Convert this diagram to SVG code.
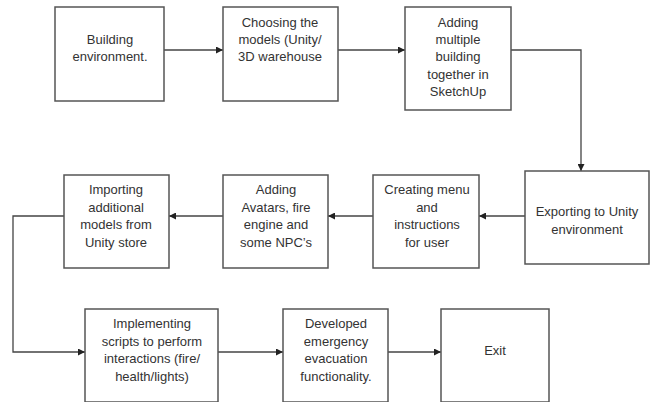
<svg xmlns="http://www.w3.org/2000/svg" width="652" height="402" viewBox="0 0 652 402">
<style>
.box{fill:#fff;stroke:#555;stroke-width:1.5}
.t{font-family:"Liberation Sans",Arial,sans-serif;font-size:13px;fill:#333;text-anchor:middle}
.c{fill:none;stroke:#444;stroke-width:1.3}
</style>
<defs>
<marker id="ah" viewBox="0 0 10 10" refX="10" refY="5" markerWidth="7" markerHeight="7" markerUnits="userSpaceOnUse" orient="auto">
<path d="M0,0 L10,5 L0,10 z" fill="#222"/>
</marker>
</defs>
<rect width="652" height="402" fill="#fff"/>
<g id="connectors">
<path class="c" d="M164,50 H223" marker-end="url(#ah)"/>
<path class="c" d="M338,50 H405" marker-end="url(#ah)"/>
<path class="c" d="M511,50 H581 V171" marker-end="url(#ah)"/>
<path class="c" d="M525,216 H479" marker-end="url(#ah)"/>
<path class="c" d="M373,216 H328" marker-end="url(#ah)"/>
<path class="c" d="M223,216 H169" marker-end="url(#ah)"/>
<path class="c" d="M64,216 H13 V352 H85" marker-end="url(#ah)"/>
<path class="c" d="M218,352 H283" marker-end="url(#ah)"/>
<path class="c" d="M388,352 H441" marker-end="url(#ah)"/>
</g>
<g id="n1"><rect class="box" x="55" y="7" width="109" height="94"/>
<text class="t" x="110"><tspan x="110" y="44">Building</tspan><tspan x="110" y="61">environment.</tspan></text></g>
<g id="n2"><rect class="box" x="223" y="7" width="115" height="94"/>
<text class="t"><tspan x="280" y="27">Choosing the</tspan><tspan x="280" y="44">models (Unity/</tspan><tspan x="280" y="61">3D warehouse</tspan></text></g>
<g id="n3"><rect class="box" x="405" y="7" width="106" height="103"/>
<text class="t"><tspan x="458" y="27">Adding</tspan><tspan x="458" y="44">multiple</tspan><tspan x="458" y="61">building</tspan><tspan x="458" y="79">together in</tspan><tspan x="458" y="96">SketchUp</tspan></text></g>
<g id="n4"><rect class="box" x="525" y="171" width="124" height="93"/>
<text class="t"><tspan x="587" y="216">Exporting to Unity</tspan><tspan x="587" y="234">environment</tspan></text></g>
<g id="n5"><rect class="box" x="373" y="175" width="106" height="93"/>
<text class="t"><tspan x="427" y="194">Creating menu</tspan><tspan x="427" y="212">and</tspan><tspan x="427" y="229">instructions</tspan><tspan x="427" y="247">for user</tspan></text></g>
<g id="n6"><rect class="box" x="223" y="175" width="105" height="93"/>
<text class="t"><tspan x="276" y="194">Adding</tspan><tspan x="276" y="212">Avatars, fire</tspan><tspan x="276" y="229">engine and</tspan><tspan x="276" y="247">some NPC’s</tspan></text></g>
<g id="n7"><rect class="box" x="64" y="175" width="105" height="93"/>
<text class="t"><tspan x="116" y="194">Importing</tspan><tspan x="116" y="212">additional</tspan><tspan x="116" y="229">models from</tspan><tspan x="116" y="247">Unity store</tspan></text></g>
<g id="n8"><rect class="box" x="85" y="309" width="133" height="93"/>
<text class="t"><tspan x="152" y="328">Implementing</tspan><tspan x="152" y="346">scripts to perform</tspan><tspan x="152" y="363">interactions (fire/</tspan><tspan x="152" y="381">health/lights)</tspan></text></g>
<g id="n9"><rect class="box" x="283" y="309" width="105" height="93"/>
<text class="t"><tspan x="336" y="328">Developed</tspan><tspan x="336" y="346">emergency</tspan><tspan x="336" y="363">evacuation</tspan><tspan x="336" y="381">functionality.</tspan></text></g>
<g id="n10"><rect class="box" x="441" y="309" width="108" height="93"/>
<text class="t" x="495" y="355">Exit</text></g>
</svg>
